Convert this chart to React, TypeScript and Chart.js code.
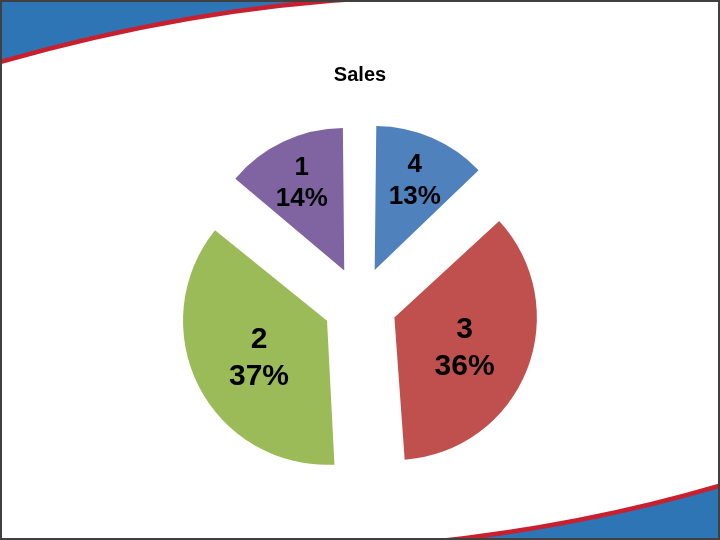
import React, { useEffect, useRef } from "react";
import { Chart, registerables } from "chart.js";

Chart.register(...registerables);

// ---- data ----
const chartTitle = "Sales";
const categories = ["1", "2", "3", "4"];
const salesValues = [14, 37, 36, 13];
const sliceColors = ["#8064A2", "#9BBB59", "#C0504D", "#4F81BD"];

// slices are laid out clockwise from 12 o'clock starting with the last category
const plotLabels = categories.slice().reverse();
const plotValues = salesValues.slice().reverse();
const plotColors = sliceColors.slice().reverse();

const SLIDE_BLUE = "#2E75B6";
const SLIDE_RED = "#C8202F";

const slideBackground = {
  id: "slideBackground",
  beforeDraw(chart: any) {
    const { ctx, width, height } = chart;
    ctx.save();
    ctx.fillStyle = "#ffffff";
    ctx.fillRect(0, 0, width, height);

    // top-left swoosh
    ctx.beginPath();
    ctx.moveTo(0, 0);
    ctx.lineTo(0, 62);
    ctx.quadraticCurveTo(190, 8, 370, -2);
    ctx.lineTo(370, 0);
    ctx.closePath();
    ctx.fillStyle = SLIDE_BLUE;
    ctx.fill();
    ctx.beginPath();
    ctx.moveTo(0, 62);
    ctx.quadraticCurveTo(190, 8, 370, -2);
    ctx.strokeStyle = SLIDE_RED;
    ctx.lineWidth = 4.5;
    ctx.stroke();

    // bottom-right swoosh
    ctx.beginPath();
    ctx.moveTo(722, 485);
    ctx.quadraticCurveTo(570, 530, 400, 545);
    ctx.lineTo(722, 545);
    ctx.closePath();
    ctx.fillStyle = SLIDE_BLUE;
    ctx.fill();
    ctx.beginPath();
    ctx.moveTo(722, 485);
    ctx.quadraticCurveTo(570, 530, 400, 545);
    ctx.strokeStyle = SLIDE_RED;
    ctx.lineWidth = 4.5;
    ctx.stroke();

    // frame
    ctx.strokeStyle = "#404040";
    ctx.lineWidth = 2;
    ctx.strokeRect(1, 1, width - 2, height - 2);
    ctx.restore();
  },
};

const sliceLabels = {
  id: "sliceLabels",
  afterDatasetsDraw(chart: any) {
    const { ctx } = chart;
    const meta = chart.getDatasetMeta(0);
    const labels = chart.data.labels as string[];
    const vals = chart.data.datasets[0].data as number[];
    const total = vals.reduce((a, b) => a + b, 0);
    ctx.save();
    ctx.fillStyle = "#000000";
    ctx.textAlign = "center";
    ctx.textBaseline = "middle";
    meta.data.forEach((arc: any, i: number) => {
      const { x, y, startAngle, endAngle, outerRadius } = arc.getProps(
        ["x", "y", "startAngle", "endAngle", "outerRadius"],
        true
      );
      const circ = endAngle - startAngle;
      const mid = (startAngle + endAngle) / 2;
      const shift = (arc.options.offset || 0) / 4;
      const effR = outerRadius + shift * (1 - Math.sin(Math.min(Math.PI, circ)));
      const small = circ < Math.PI / 2;
      const rf = small ? 0.7 : 0.53;
      const r = shift + rf * effR;
      const px = x + Math.cos(mid) * r;
      const py = y + Math.sin(mid) * r + 3;
      const size = small ? 26 : 30;
      const lh = size * 1.22;
      ctx.font = `bold ${size}px "Liberation Sans", Arial, sans-serif`;
      const pct = Math.round((vals[i] / total) * 100) + "%";
      ctx.fillText(labels[i], px, py - lh / 2);
      ctx.fillText(pct, px, py + lh / 2);
    });
    ctx.restore();
  },
};

export default function App() {
  const canvasRef = useRef<HTMLCanvasElement | null>(null);

  useEffect(() => {
    if (!canvasRef.current) return;
    const chart = new Chart(canvasRef.current, {
      type: "pie",
      data: {
        labels: plotLabels,
        datasets: [
          {
            data: plotValues,
            backgroundColor: plotColors,
            borderWidth: 0,
            offset: 148,
            hoverOffset: 148,
            radius: 134,
          } as any,
        ],
      },
      options: {
        responsive: false,
        animation: false,
        devicePixelRatio: 1,
        radius: 134,
        layout: { padding: { top: 0, bottom: 28, left: 0, right: 0 } },
        plugins: {
          legend: { display: false },
          tooltip: { enabled: false },
          title: {
            display: true,
            text: chartTitle,
            color: "#000000",
            font: { family: '"Liberation Sans", Arial, sans-serif', size: 20, weight: "bold" },
            padding: { top: 63, bottom: 9 },
          },
        },
        events: [],
      } as any,
      plugins: [slideBackground, sliceLabels],
    });
    return () => chart.destroy();
  }, []);

  return (
    <div style={{ position: "fixed", left: 0, top: 0, width: 720, height: 540 }}>
      <canvas ref={canvasRef} width={720} height={540} style={{ display: "block" }} />
    </div>
  );
}
